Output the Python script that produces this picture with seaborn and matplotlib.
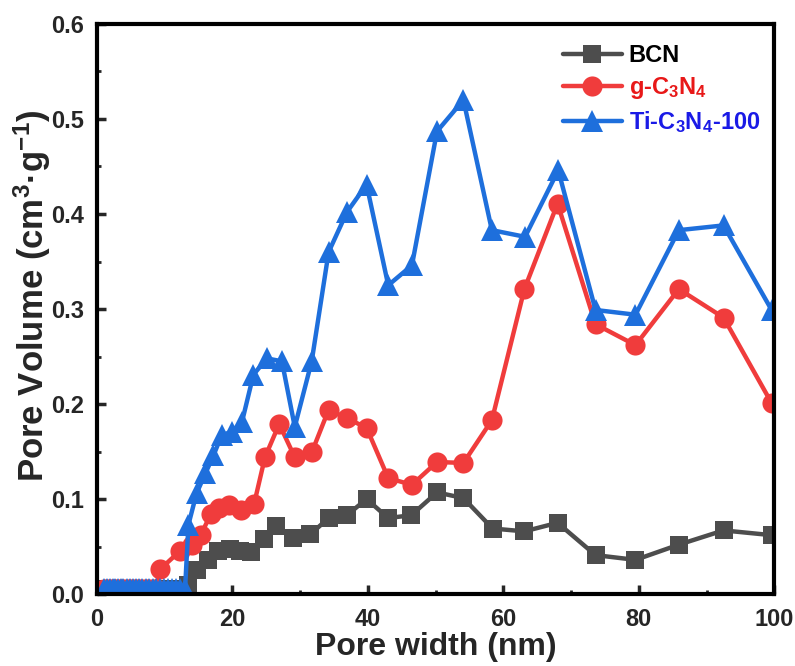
import numpy as np
import pandas as pd
import matplotlib
matplotlib.use("Agg")
import matplotlib.pyplot as plt
from matplotlib.ticker import MultipleLocator
import seaborn as sns

# ---------------- data ----------------
low_x = [1.1, 1.5, 1.9, 2.3, 2.7, 3.1, 3.5, 3.9, 4.4, 4.8, 5.3, 5.7, 6.2, 6.7,
         7.2, 7.7, 8.2, 8.7, 9.3, 9.9, 10.5, 11.1, 11.7, 12.3, 13.0]
low_y = [0.005] * len(low_x)

bcn_x = [13.5, 14.7, 16.4, 17.9, 19.6, 21.1, 22.8, 24.6, 26.5, 29.0, 31.5, 34.2,
         36.9, 39.8, 43.0, 46.4, 50.2, 54.1, 58.4, 63.1, 68.0, 73.6, 79.5, 85.9,
         92.5, 99.6]
bcn_y = [0.010, 0.025, 0.036, 0.045, 0.047, 0.045, 0.044, 0.058, 0.072, 0.059,
         0.063, 0.080, 0.083, 0.100, 0.080, 0.083, 0.107, 0.101, 0.069, 0.066,
         0.075, 0.041, 0.036, 0.052, 0.067, 0.062]

gcn_x = [9.3, 12.2, 14.0, 15.3, 16.8, 18.0, 19.5, 21.3, 23.2, 24.8, 26.9, 29.2,
         31.7, 34.2, 36.9, 39.8, 43.0, 46.5, 50.2, 54.1, 58.3, 63.1, 68.0, 73.6,
         79.5, 85.9, 92.5, 99.6]
gcn_y = [0.026, 0.045, 0.052, 0.062, 0.084, 0.091, 0.094, 0.089, 0.095, 0.144,
         0.179, 0.144, 0.149, 0.194, 0.185, 0.175, 0.122, 0.115, 0.139, 0.138,
         0.183, 0.321, 0.411, 0.284, 0.262, 0.321, 0.291, 0.201]

ti_x = [13.5, 14.7, 16.0, 17.2, 18.4, 19.9, 21.4, 23.1, 25.1, 27.3, 29.2, 31.7,
        34.2, 36.9, 39.8, 43.0, 46.5, 50.2, 54.1, 58.3, 63.2, 68.1, 73.6, 79.5,
        85.9, 92.5, 99.6]
ti_y = [0.073, 0.106, 0.127, 0.146, 0.167, 0.171, 0.181, 0.231, 0.248, 0.245,
        0.176, 0.245, 0.360, 0.402, 0.431, 0.325, 0.346, 0.487, 0.520, 0.383,
        0.376, 0.446, 0.299, 0.294, 0.383, 0.388, 0.299]

labels = ["BCN", "g-C$_3$N$_4$", "Ti-C$_3$N$_4$-100"]
line_colors = ["#4d4d4d", "#f03c3c", "#1e6fdc"]
text_colors = ["#000000", "#e81818", "#1a1ae6"]
markers = ["s", "o", "^"]
msizes = [13, 14.5, 15.5]

x_ticks = [0, 20, 40, 60, 80, 100]
y_ticks = [0.0, 0.1, 0.2, 0.3, 0.4, 0.5, 0.6]

# ---------------- style ----------------
sns.set_theme(style="white")
plt.rcParams["font.family"] = ["Liberation Sans", "DejaVu Sans"]
plt.rcParams["font.weight"] = "bold"
plt.rcParams["mathtext.fontset"] = "custom"
plt.rcParams["mathtext.rm"] = "Liberation Sans:bold"
plt.rcParams["mathtext.bf"] = "Liberation Sans:bold"
plt.rcParams["mathtext.it"] = "Liberation Sans:bold"
plt.rcParams["mathtext.default"] = "bf"

fig = plt.figure(figsize=(7.95, 6.66), dpi=100)
ax = fig.add_axes([0.122, 0.108, 0.852, 0.856])

series = [
    (low_x + bcn_x, low_y + bcn_y),
    (low_x[:18] + gcn_x, low_y[:18] + gcn_y),
    (low_x + ti_x, low_y + ti_y),
]
for (xs, ys), lab, c, m, ms in zip(series, labels, line_colors, markers, msizes):
    df = pd.DataFrame({"x": xs, "y": ys})
    sns.lineplot(data=df, x="x", y="y", ax=ax, color=c, lw=3.2, marker=m,
                 markersize=ms, markeredgewidth=0, label=lab, sort=False,
                 estimator=None)

ax.set_xlim(0, 100)
ax.set_ylim(0, 0.6)
ax.set_xticks(x_ticks)
ax.set_yticks(y_ticks)
ax.xaxis.set_minor_locator(MultipleLocator(10))
ax.yaxis.set_minor_locator(MultipleLocator(0.05))
ax.set_yticklabels([f"{v:.1f}" for v in y_ticks], fontsize=17, fontweight="bold")
ax.set_xticklabels([str(v) for v in x_ticks], fontsize=17, fontweight="bold")
ax.tick_params(axis="both", which="major", direction="in", length=6.5, width=2.5,
               bottom=True, left=True, top=False, right=False)
ax.tick_params(axis="both", which="minor", direction="in", length=3, width=2,
               bottom=True, left=True, top=False, right=False)
ax.tick_params(axis="x", which="major", pad=10)
ax.tick_params(axis="y", which="major", pad=9)
for s in ax.spines.values():
    s.set_linewidth(3)
    s.set_color("black")

ax.set_xlabel("Pore width (nm)", fontsize=23, fontweight="bold", labelpad=1)
ax.set_ylabel("Pore Volume (cm$^3$·g$^{-1}$)", fontsize=25, fontweight="bold")
ax.yaxis.set_label_coords(-0.065, 0.523)

leg = ax.legend(loc="upper right", bbox_to_anchor=(1.0, 0.99), frameon=False,
                fontsize=17, handlelength=2.5, handletextpad=0.3,
                labelspacing=0.35, borderaxespad=0.2)
for t, tc in zip(leg.get_texts(), text_colors):
    t.set_color(tc)
    t.set_fontweight("bold")

fig.savefig("out.png", dpi=100)
